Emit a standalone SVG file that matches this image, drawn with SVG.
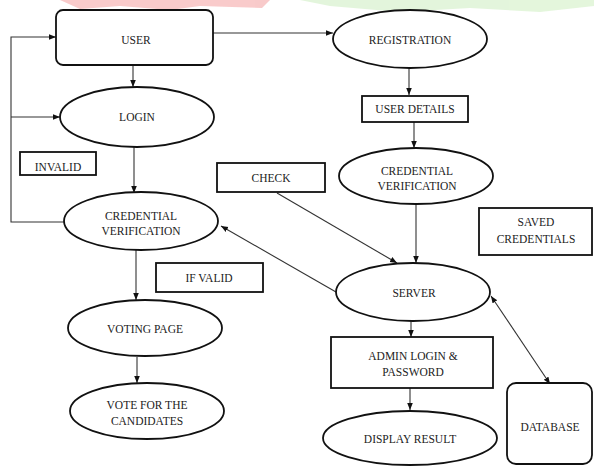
<svg xmlns="http://www.w3.org/2000/svg" width="594" height="466" viewBox="0 0 594 466">
<style>
.s{fill:#fff;stroke:#111;stroke-width:1.8}
.c{fill:none;stroke:#333;stroke-width:1.1}
</style>
<defs>
<marker id="a" viewBox="0 0 10 10" refX="10" refY="5" markerWidth="7" markerHeight="7" orient="auto-start-reverse" markerUnits="userSpaceOnUse">
<path d="M0,1 L10,5 L0,9 z" fill="#111"/>
</marker>
</defs>
<rect width="594" height="466" fill="#fff"/>
<g id="watermark" opacity="0.55">
<path d="M60,0 L270,0 L262,8 L200,6 L170,10 L120,6 L80,9 z" fill="#f4a0a0"/>
<path d="M300,0 L594,0 L594,6 L540,12 L470,8 L400,12 L330,6 z" fill="#cdeec0"/>
</g>
<g id="connectors">
<line class="c" x1="213" y1="33" x2="333" y2="33" marker-end="url(#a)"/>
<line class="c" x1="409" y1="68" x2="409" y2="95" marker-end="url(#a)"/>
<line class="c" x1="414" y1="122" x2="414" y2="148" marker-end="url(#a)"/>
<line class="c" x1="416" y1="205" x2="416" y2="263" marker-end="url(#a)"/>
<line class="c" x1="277" y1="193" x2="397" y2="263" marker-end="url(#a)"/>
<line class="c" x1="336" y1="292" x2="221" y2="226" marker-end="url(#a)"/>
<line class="c" x1="491" y1="296" x2="550" y2="384" marker-start="url(#a)" marker-end="url(#a)"/>
<line class="c" x1="411" y1="321" x2="411" y2="337" marker-end="url(#a)"/>
<line class="c" x1="410" y1="388" x2="410" y2="410" marker-end="url(#a)"/>
<line class="c" x1="133" y1="65" x2="133" y2="87" marker-end="url(#a)"/>
<line class="c" x1="134" y1="147" x2="134" y2="193" marker-end="url(#a)"/>
<polyline class="c" points="64,222 11,222 11,37 56,37" marker-end="url(#a)"/>
<line class="c" x1="11" y1="117" x2="60" y2="117" marker-end="url(#a)"/>
<line class="c" x1="136" y1="250" x2="136" y2="300" marker-end="url(#a)"/>
<line class="c" x1="137" y1="357" x2="137" y2="383" marker-end="url(#a)"/>
</g>
<g font-family="Liberation Serif, Times New Roman, DejaVu Serif, serif" font-size="11.5" fill="#222" text-anchor="middle">
<g id="user"><rect class="s" x="56" y="10" width="157" height="55" rx="7"/><text x="136" y="44">USER</text></g>
<g id="registration"><ellipse class="s" cx="410" cy="39" rx="77" ry="29"/><text x="410" y="44">REGISTRATION</text></g>
<g id="user-details"><rect class="s" x="362" y="96" width="106" height="26"/><text x="415" y="113">USER DETAILS</text></g>
<g id="cred-ver-2"><ellipse class="s" cx="416" cy="176" rx="77" ry="28"/><text x="417" y="175">CREDENTIAL</text><text x="417" y="190">VERIFICATION</text></g>
<g id="check"><rect class="s" x="217" y="163" width="108" height="29"/><text x="271" y="182">CHECK</text></g>
<g id="saved-credentials"><rect class="s" x="479" y="208" width="113" height="47"/><text x="536" y="226">SAVED</text><text x="536" y="243">CREDENTIALS</text></g>
<g id="login"><ellipse class="s" cx="137" cy="117" rx="77" ry="30"/><text x="137" y="121">LOGIN</text></g>
<g id="invalid"><rect class="s" x="20" y="152" width="76" height="23"/><text x="58" y="171">INVALID</text></g>
<g id="cred-ver-1"><ellipse class="s" cx="141" cy="221" rx="77" ry="29"/><text x="141" y="220">CREDENTIAL</text><text x="141" y="235">VERIFICATION</text></g>
<g id="if-valid"><rect class="s" x="156" y="263" width="107" height="29"/><text x="209" y="282">IF VALID</text></g>
<g id="voting-page"><ellipse class="s" cx="145" cy="328" rx="77" ry="28"/><text x="145" y="333">VOTING PAGE</text></g>
<g id="vote"><ellipse class="s" cx="147" cy="411" rx="77" ry="28"/><text x="147" y="409">VOTE FOR THE</text><text x="147" y="425">CANDIDATES</text></g>
<g id="server"><ellipse class="s" cx="413" cy="292" rx="77" ry="29"/><text x="414" y="297">SERVER</text></g>
<g id="admin"><rect class="s" x="331" y="337" width="162" height="51"/><text x="413" y="360">ADMIN LOGIN &amp;</text><text x="413" y="376">PASSWORD</text></g>
<g id="display-result"><ellipse class="s" cx="410" cy="438" rx="87" ry="27"/><text x="410" y="443">DISPLAY RESULT</text></g>
<g id="database"><rect class="s" x="507" y="383" width="85" height="81" rx="9"/><text x="550" y="431">DATABASE</text></g>
</g>
</svg>
